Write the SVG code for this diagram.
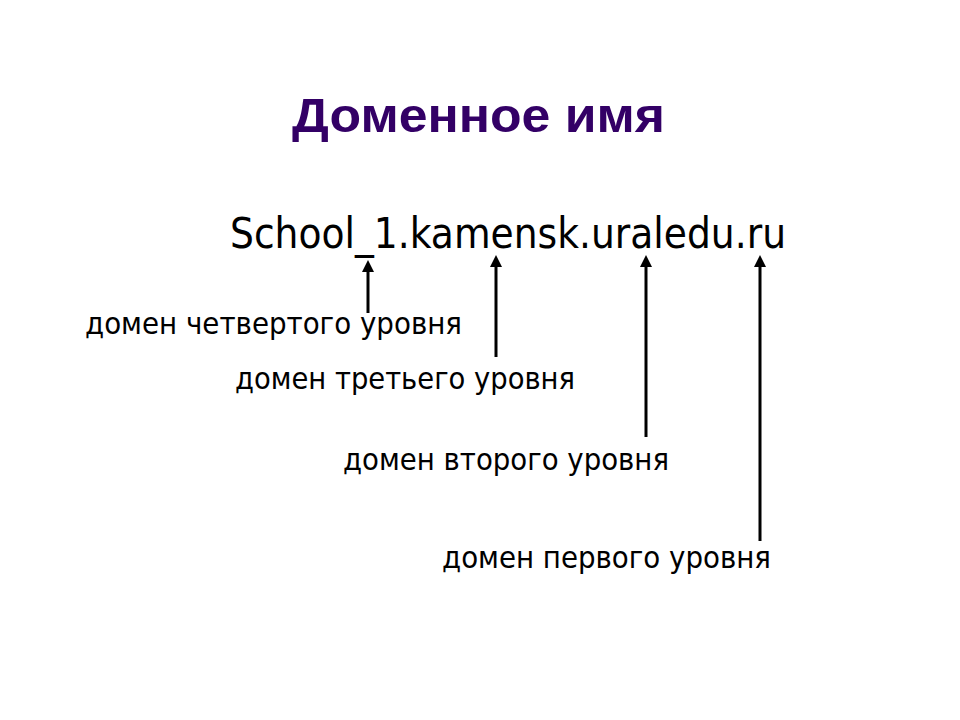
<svg xmlns="http://www.w3.org/2000/svg" width="960" height="720" viewBox="0 0 960 720">
  <style>
    .title { font-family: "Liberation Sans", Arial, sans-serif; font-weight: bold; font-size: 49px; fill: #330066; }
    .domain { font-family: "DejaVu Sans", Verdana, sans-serif; font-size: 42px; fill: #000000; }
    .label { font-family: "DejaVu Sans", Verdana, sans-serif; font-size: 30px; fill: #000000; }
    .arrow { stroke: #000000; stroke-width: 3; fill: none; marker-end: url(#head); }
  </style>
  <defs>
    <marker id="head" viewBox="0 0 12 12" markerUnits="userSpaceOnUse" markerWidth="12" markerHeight="12" refX="3" refY="6" orient="auto">
      <path d="M0,0 L12,6 L0,12 z" fill="#000000"/>
    </marker>
  </defs>
  <rect x="0" y="0" width="960" height="720" fill="#ffffff"/>
  <g id="title">
    <text class="title" x="292" y="132" textLength="373" lengthAdjust="spacingAndGlyphs">Доменное имя</text>
  </g>
  <g id="domain">
    <text class="domain" x="230" y="248" textLength="556" lengthAdjust="spacingAndGlyphs">School_1.kamensk.uraledu.ru</text>
  </g>
  <g id="label4">
    <text class="label" x="85" y="334" textLength="377" lengthAdjust="spacingAndGlyphs">домен четвертого уровня</text>
  </g>
  <g id="label3">
    <text class="label" x="235" y="389" textLength="340" lengthAdjust="spacingAndGlyphs">домен третьего уровня</text>
  </g>
  <g id="label2">
    <text class="label" x="343" y="470" textLength="326" lengthAdjust="spacingAndGlyphs">домен второго уровня</text>
  </g>
  <g id="label1">
    <text class="label" x="442" y="568" textLength="329" lengthAdjust="spacingAndGlyphs">домен первого уровня</text>
  </g>
  <g id="connectors">
    <line class="arrow" x1="368" y1="313" x2="368" y2="269"/>
    <line class="arrow" x1="496" y1="357" x2="496" y2="264"/>
    <line class="arrow" x1="646" y1="437" x2="646" y2="264"/>
    <line class="arrow" x1="760" y1="541" x2="760" y2="264"/>
  </g>
</svg>
